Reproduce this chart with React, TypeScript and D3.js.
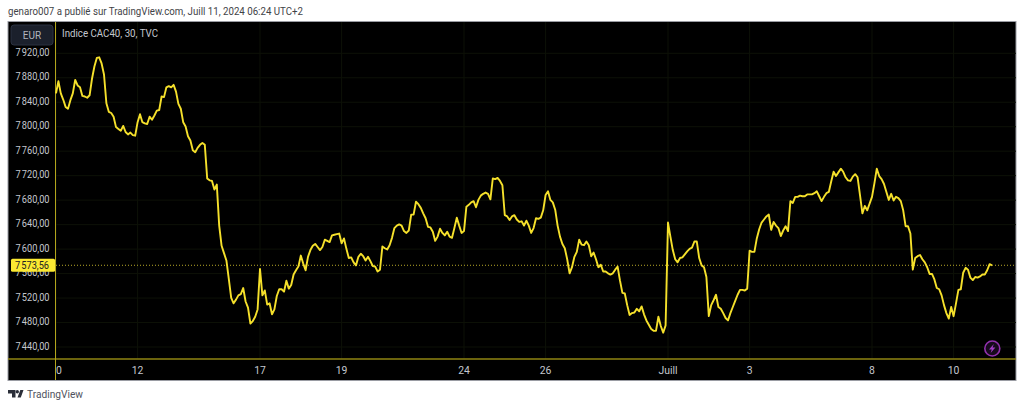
import React from "react";
import * as d3 from "d3";

const rawCloses = [
  7856,7876,7856,7846,7834,7831,7845,7856,7878,7869,7866,7852,7851,7849,7853,7880,7900,7914,7915,7905,
  7887,7840,7826,7824,7818,7801,7798,7795,7803,7793,7789,7792,7788,7787,7809,7822,7809,7807,7806,7818,
  7813,7820,7828,7829,7851,7850,7866,7868,7866,7870,7859,7839,7831,7809,7802,7786,7779,7763,7760,7767,
  7772,7775,7772,7717,7714,7713,7699,7707,7640,7607,7595,7583,7553,7522,7513,7519,7526,7528,7538,7516,
  7506,7480,7484,7491,7503,7569,7526,7534,7511,7513,7495,7503,7525,7536,7536,7532,7550,7537,7543,7560,
  7567,7573,7591,7578,7567,7589,7600,7607,7610,7605,7600,7605,7617,7615,7613,7624,7625,7626,7627,7611,
  7619,7602,7587,7588,7580,7575,7589,7594,7590,7583,7589,7582,7574,7573,7565,7568,7606,7603,7601,7608,
  7620,7636,7640,7642,7640,7631,7628,7632,7658,7658,7679,7675,7669,7660,7652,7638,7637,7630,7615,7622,
  7635,7628,7624,7630,7622,7620,7636,7653,7640,7628,7631,7671,7674,7678,7680,7670,7682,7689,7692,7694,
  7692,7683,7717,7716,7718,7713,7706,7657,7655,7649,7655,7657,7650,7646,7647,7640,7648,7640,7628,7636,
  7652,7651,7653,7665,7690,7696,7682,7678,7666,7640,7622,7610,7603,7585,7562,7572,7589,7597,7617,7609,
  7608,7614,7608,7590,7596,7585,7572,7576,7565,7565,7562,7560,7562,7568,7573,7550,7530,7529,7510,7494,
  7497,7498,7504,7500,7508,7495,7485,7478,7471,7468,7468,7491,7476,7465,7477,7645,7622,7600,7585,7580,
  7587,7588,7593,7598,7602,7604,7614,7614,7587,7575,7572,7556,7492,7510,7518,7527,7507,7504,7497,7489,
  7485,7497,7507,7517,7527,7535,7535,7534,7537,7599,7597,7597,7619,7634,7645,7650,7655,7658,7633,7646,
  7640,7636,7623,7632,7639,7631,7680,7677,7687,7687,7689,7688,7688,7691,7691,7691,7693,7696,7688,7680,
  7687,7693,7695,7712,7728,7721,7727,7733,7728,7719,7714,7713,7720,7724,7719,7690,7660,7672,7665,7676,
  7687,7709,7733,7721,7716,7708,7695,7682,7692,7681,7687,7685,7680,7665,7639,7639,7627,7568,7587,7590,
  7592,7585,7580,7572,7561,7561,7552,7538,7536,7526,7510,7497,7488,7507,7492,7513,7535,7536,7563,7571,
  7568,7555,7551,7556,7555,7557,7560,7560,7567,7577,7575.16,
];
// The raw readings were taken against the label centres, which sit 1px above their gridlines.
const READING_OFFSET = -1.6;
const closes = rawCloses.map((v) => v + READING_OFFSET);
const priceTicks = [7440,7480,7520,7560,7600,7640,7680,7720,7760,7800,7840,7880,7920];
const timeBars = [0,34,85,119,170,204,255,289,340,374];
const timeLabels = ["10","12","17","19","24","26","Juill","3","8","10"];
const lastPrice = 7573.56;

const W = 1024, H = 409;
const FONT = "Roboto, 'Open Sans', sans-serif";
const x = d3.scaleLinear().domain([0, 390]).range([56, 992]);
const y = d3.scaleLinear().domain([7440, 7920]).range([347, 53.3]);
const fmt = (v: number) => {
  const [a, b] = v.toFixed(2).split(".");
  return `${a[0]}\u202f${a.slice(1)},${b}`;
};

export default function App() {
  const line = d3.line<number>().x((_, i) => x(i)).y((d) => y(d)).curve(d3.curveLinear);
  const yLast = y(lastPrice);
  return (
    <svg width={W} height={H} style={{ position: "absolute", left: 0, top: 0, background: "#fff", fontFamily: FONT }}>
      <defs>
        <clipPath id="plot"><rect x={55.5} y={22} width={961} height={358} /></clipPath>
      </defs>
      <text x={8} y={15} fontSize={10.6} fill="#3f4347" textLength={295} lengthAdjust="spacingAndGlyphs">genaro007 a publié sur TradingView.com, Juill 11, 2024 06:24 UTC+2</text>
      <rect x={8} y={21.5} width={1008} height={359} fill="#000" stroke="#9a9ca3" strokeWidth={1} />
      {priceTicks.map((t) => (
        <line key={t} x1={56} x2={1016} y1={y(t)} y2={y(t)} stroke="#0d1107" />
      ))}
      {timeBars.map((b) => (
        <line key={b} x1={x(b)} x2={x(b)} y1={22} y2={359} stroke="#0d1107" />
      ))}
      <line x1={8} x2={1016} y1={359} y2={359} stroke="#8f8412" strokeWidth={1.3} />
      <line x1={55.5} x2={55.5} y1={22} y2={380} stroke="#b3a51c" strokeWidth={1} />
      <line x1={56} x2={1016} y1={yLast} y2={yLast} stroke="#b8aa28" strokeWidth={1} strokeDasharray="1 2" />
      <path d={line(closes) ?? ""} fill="none" stroke="#f5e02b" strokeWidth={1.9} strokeLinejoin="round" />

      {priceTicks.map((t) => (
        <text key={t} x={15.5} y={y(t) + 2.7} fontSize={10.6} fill="#c4c7ce" textLength={34} lengthAdjust="spacingAndGlyphs">{fmt(t)}</text>
      ))}
      <g clipPath="url(#plot)">
        {timeBars.map((b, i) => (
          <text key={b} x={x(b)} y={373.5} fontSize={10.4} fill="#c4c7ce" textAnchor="middle">{timeLabels[i]}</text>
        ))}
      </g>
      <rect x={11} y={25} width={42} height={20} rx={3} fill="#1b202c" stroke="#2b3140" />
      <text x={32} y={38.5} fontSize={10} fill="#b2b5be" textAnchor="middle">EUR</text>
      <text x={62} y={36.5} fontSize={10.2} fill="#c4c7ce" textLength={96} lengthAdjust="spacingAndGlyphs">Indice CAC40, 30, TVC</text>
      <rect x={11} y={yLast - 6.5} width={44} height={13} rx={1.5} fill="#fbe932" />
      <text x={15} y={yLast + 3.7} fontSize={10.6} fill="#222" textLength={34} lengthAdjust="spacingAndGlyphs">{fmt(lastPrice)}</text>

      <circle cx={992.3} cy={348.5} r={7.5} fill="#160a1c" stroke="#9131ad" strokeWidth={1.6} />
      <path d="M993.8 344 L989 349.4 L991.8 349.4 L990.6 353 L995.4 347.6 L992.6 347.6 Z" fill="#a03cc4" />

      <path d="M8 390 H15.5 V397.5 H12 V393.5 H8 Z M17.5 397.5 L20.3 390 H23.5 L20.8 397.5 Z" fill="#2a2e39" />
      <circle cx={17.3} cy={391.8} r={1.7} fill="#2a2e39" />
      <text x={27} y={398} fontSize={11} fill="#50535e" textLength={56} lengthAdjust="spacingAndGlyphs">TradingView</text>
    </svg>
  );
}
